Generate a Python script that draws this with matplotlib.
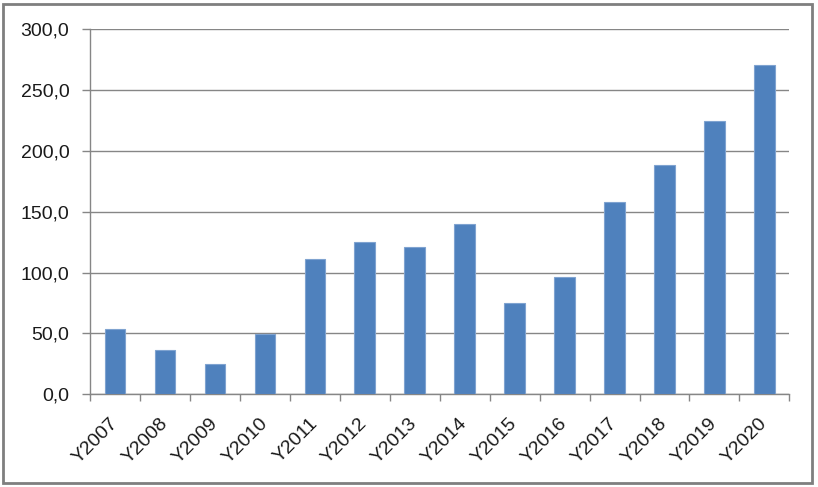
import matplotlib
matplotlib.use('Agg')
import matplotlib.pyplot as plt
from matplotlib.patches import Rectangle
from matplotlib.ticker import FuncFormatter

# Data
years = ['Y2007', 'Y2008', 'Y2009', 'Y2010', 'Y2011', 'Y2012', 'Y2013',
         'Y2014', 'Y2015', 'Y2016', 'Y2017', 'Y2018', 'Y2019', 'Y2020']
values = [53.4, 36.4, 24.9, 49.3, 110.9, 125.4, 120.8,
          139.7, 75.3, 96.6, 158.3, 188.4, 224.6, 270.8]
y_ticks = [0, 50, 100, 150, 200, 250, 300]

plt.rcParams['font.family'] = ['Liberation Sans', 'DejaVu Sans']
grey = '#868686'

fig = plt.figure(figsize=(8.18, 4.87), dpi=100)
ax = fig.add_axes([0.110, 0.1903, 0.855, 0.7495])

x = range(len(years))
ax.bar(x, values, width=0.41, color='#4F81BD', edgecolor='#7FA3D0', linewidth=0.8, zorder=3)

ax.set_xlim(-0.5, len(years) - 0.5)
ax.set_ylim(0, 300)
ax.set_yticks(y_ticks)
ax.yaxis.set_major_formatter(FuncFormatter(lambda v, p: f'{v:.1f}'.replace('.', ',')))
ax.grid(axis='y', color=grey, linewidth=1, zorder=0)

# category labels with ticks between categories
ax.set_xticks(list(x))
ax.set_xticklabels(years, rotation=45, ha='right', va='center', rotation_mode='anchor',
                   fontsize=14, color='#1a1a1a')
ax.set_xticks([i - 0.5 for i in range(len(years) + 1)], minor=True)
ax.tick_params(axis='x', which='major', length=0, pad=19)
ax.tick_params(axis='x', which='minor', length=5, color=grey, width=1)
ax.tick_params(axis='y', length=5.8, color=grey, width=1, labelsize=14, labelcolor='#1a1a1a', pad=9)

for s in ['top', 'right']:
    ax.spines[s].set_visible(False)
for s in ['left', 'bottom']:
    ax.spines[s].set_color(grey)
    ax.spines[s].set_linewidth(1)

# outer chart border
fig.patches.append(Rectangle((3 / 818, 4 / 487), 809 / 818, 479 / 487,
                             transform=fig.transFigure, fill=False,
                             edgecolor='#7f7f7f', linewidth=2))

fig.savefig('out.png', dpi=100)
